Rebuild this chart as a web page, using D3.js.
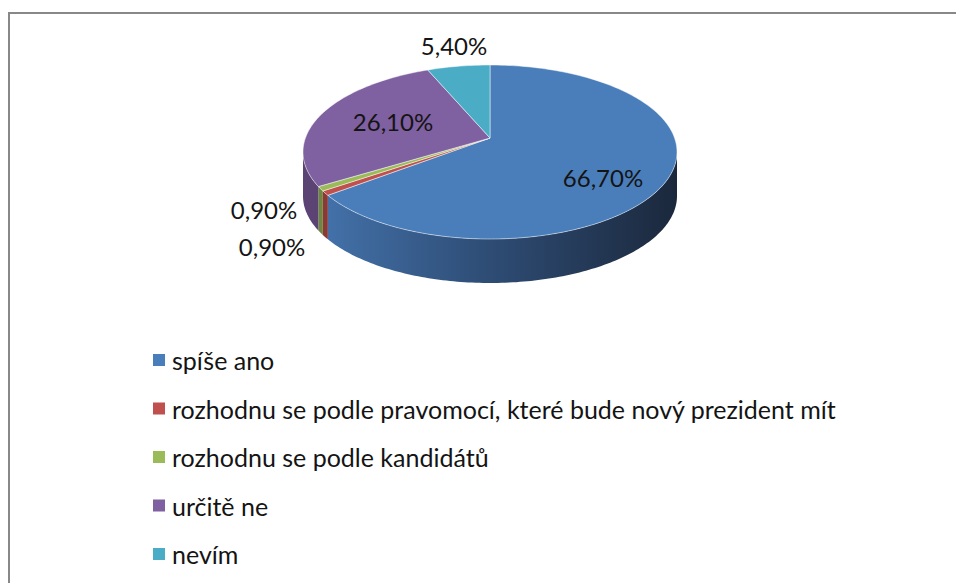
<!DOCTYPE html>
<html>
<head>
<meta charset="utf-8">
<script src="https://cdn.jsdelivr.net/npm/d3@7"></script>
<style>
  body { margin: 0; background: #fff; }
  text { font-family: Lato, "Open Sans", sans-serif; fill: #141414; }
</style>
</head>
<body>
<svg id="chart" width="956" height="583"></svg>
<script>
// data
var categories = ["spíše ano", "rozhodnu se podle pravomocí, které bude nový prezident mít",
  "rozhodnu se podle kandidátů", "určitě ne", "nevím"];
var values = [66.7, 0.9, 0.9, 26.1, 5.4];
var labels = ["66,70%", "0,90%", "0,90%", "26,10%", "5,40%"];
var colors = ["#4a7ebb", "#c0504d", "#9bbb59", "#7f60a0", "#4bacc6"];
var sideColors = ["#35557f", "#8a3936", "#6f8640", "#5b4474", "#35798c"];

var w = 956, h = 583;
var cx = 490, cy = 152, rx = 187, ry = 87, depth = 44, apexY = 138;
// label positions (centre of text)
var labelPos = [[603, 177], [272, 246], [264, 209], [393, 121], [454, 45]];

var svg = d3.select("#chart");

// frame
svg.append("rect")
  .attr("x", 9).attr("y", 13)
  .attr("width", w + 20).attr("height", h + 20)
  .attr("fill", "white")
  .attr("stroke", "#888").attr("stroke-width", 2);

var defs = svg.append("defs");
var grad = defs.append("linearGradient")
  .attr("id", "sideBlue")
  .attr("gradientUnits", "userSpaceOnUse")
  .attr("x1", cx - rx).attr("x2", cx + rx).attr("y1", 0).attr("y2", 0);
grad.append("stop").attr("offset", "0%").attr("stop-color", "#4676b0");
grad.append("stop").attr("offset", "45%").attr("stop-color", "#30507a");
grad.append("stop").attr("offset", "100%").attr("stop-color", "#1b283c");

var pie = d3.pie().sort(null).value(d => d)(values);

function pt(a, z) {
  return [cx + rx * Math.sin(a), cy - ry * Math.cos(a) + (z || 0)];
}

function arcPts(a0, a1, z) {
  var n = Math.max(2, Math.ceil(Math.abs(a1 - a0) / 0.02));
  return d3.range(n + 1).map(i => pt(a0 + (a1 - a0) * i / n, z));
}

var line = d3.line();

// sides (only front half visible)
var g = svg.append("g");
pie.forEach(function(d, i) {
  var a0 = Math.max(d.startAngle, Math.PI / 2);
  var a1 = Math.min(d.endAngle, Math.PI * 1.5);
  if (a1 <= a0) return;
  var pts = arcPts(a0, a1, 0).concat(arcPts(a1, a0, depth));
  g.append("path")
    .attr("d", line(pts) + "Z")
    .attr("fill", i === 0 ? "url(#sideBlue)" : sideColors[i])
    .attr("stroke", "none");
});

// top faces
pie.forEach(function(d, i) {
  var pts = [[cx, apexY]].concat(arcPts(d.startAngle, d.endAngle, 0));
  g.append("path")
    .attr("d", line(pts) + "Z")
    .attr("fill", colors[i])
    .attr("stroke", "rgba(255,255,255,0.6)")
    .attr("stroke-width", 0.8)
    .attr("stroke-linejoin", "round");
});

// data labels
svg.selectAll(".lbl")
  .data(labels)
  .enter()
  .append("text")
  .attr("class", "lbl")
  .attr("x", (d, i) => labelPos[i][0])
  .attr("y", (d, i) => labelPos[i][1])
  .attr("text-anchor", "middle")
  .attr("dominant-baseline", "central")
  .attr("font-size", "24px")
  .text(d => d);

// legend
var legend = svg.selectAll(".leg")
  .data(categories)
  .enter()
  .append("g")
  .attr("class", "leg")
  .attr("transform", (d, i) => "translate(153," + (360 + i * 48.5) + ")");

legend.append("rect")
  .attr("x", 0).attr("y", -6)
  .attr("width", 12).attr("height", 12)
  .attr("fill", (d, i) => colors[i]);

legend.append("text")
  .attr("x", 19).attr("y", 0)
  .attr("dominant-baseline", "central")
  .attr("font-size", "25px")
  .text(d => d);
</script>
</body>
</html>
